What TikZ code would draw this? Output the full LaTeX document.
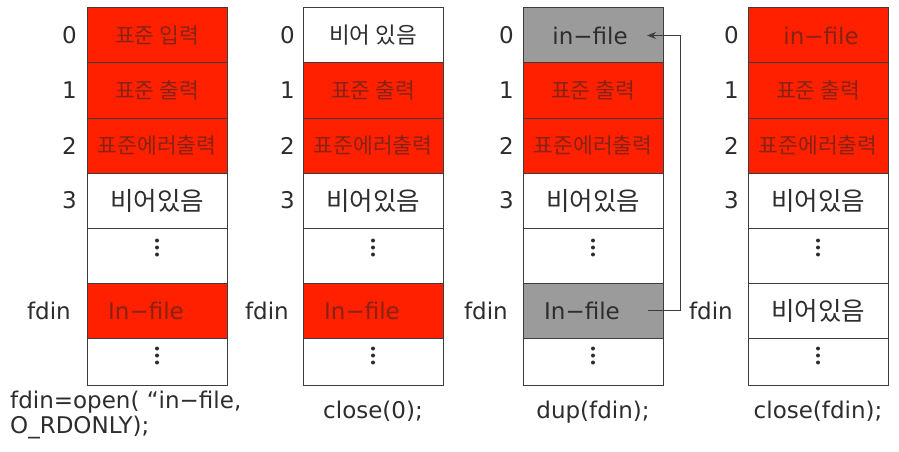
\documentclass[tikz,border=0pt]{standalone}
\usepackage{fontspec}
\setmainfont{DejaVu Sans}
\newfontfamily\kr{Noto Sans CJK KR}
\usetikzlibrary{arrows.meta}
\definecolor{redf}{RGB}{255,32,0}
\definecolor{redt}{RGB}{135,35,20}
\definecolor{grayf}{RGB}{155,155,155}
\definecolor{linec}{RGB}{60,60,60}
\definecolor{txt}{RGB}{45,45,45}
\tikzset{
  cell/.style={draw=linec, line width=1pt, minimum width=140pt, minimum height=55pt,
    anchor=north west, inner sep=0pt, outer sep=0pt},
  redc/.style={cell, fill=redf, text=redt, font=\kr\fontsize{21.5}{21.5}\selectfont},
  whc/.style={cell, fill=white, text=txt, font=\kr\fontsize{25.5}{25.5}\selectfont},
  whs/.style={cell, fill=white, text=txt, font=\kr\fontsize{22.5}{22.5}\selectfont},
  gryc/.style={cell, fill=grayf, text=txt, font=\fontsize{23}{23}\selectfont},
  redl/.style={cell, fill=redf, text=redt, font=\fontsize{23}{23}\selectfont},
  dotc/.style={cell, fill=white},
  lastc/.style={minimum height=47pt},
  lbl/.style={anchor=east, inner sep=0pt, text=txt, font=\fontsize{23}{23}\selectfont},
  captxt/.style={inner sep=0pt, text=txt, font=\fontsize{23}{25}\selectfont},
  dotfill/.style={fill=txt},
  conn/.style={draw=linec, line width=1pt, -{Stealth[length=9pt,width=7pt]}}
}
\begin{document}
\begin{tikzpicture}[x=1pt,y=-1pt]
\useasboundingbox (0,0) rectangle (899,452);
% column 1
\node[redc] (c1r0) at (87,8) {표준 입력};
\node[redc] (c1r1) at (87,63) {표준 출력};
\node[redc] (c1r2) at (87,118) {표준에러출력};
\node[whc]  (c1r3) at (87,173) {비어있음};
\node[dotc] (c1r4) at (87,228) {};
\node[redl] (c1r5) at (87,283) {In−file\hspace*{22pt}};
\node[dotc,lastc] (c1r6) at (87,338) {};
% column 2
\node[whs]  (c2r0) at (303,8) {비어 있음};
\node[redc] (c2r1) at (303,63) {표준 출력};
\node[redc] (c2r2) at (303,118) {표준에러출력};
\node[whc]  (c2r3) at (303,173) {비어있음};
\node[dotc] (c2r4) at (303,228) {};
\node[redl] (c2r5) at (303,283) {In−file\hspace*{22pt}};
\node[dotc,lastc] (c2r6) at (303,338) {};
% column 3
\node[gryc] (c3r0) at (523,8) {in−file\hspace*{6pt}};
\node[redc] (c3r1) at (523,63) {표준 출력};
\node[redc] (c3r2) at (523,118) {표준에러출력};
\node[whc]  (c3r3) at (523,173) {비어있음};
\node[dotc] (c3r4) at (523,228) {};
\node[gryc] (c3r5) at (523,283) {In−file\hspace*{22pt}};
\node[dotc,lastc] (c3r6) at (523,338) {};
% column 4
\node[redl] (c4r0) at (748,8) {\hspace*{6pt}in−file};
\node[redc] (c4r1) at (748,63) {표준 출력};
\node[redc] (c4r2) at (748,118) {표준에러출력};
\node[whc]  (c4r3) at (748,173) {비어있음};
\node[dotc] (c4r4) at (748,228) {};
\node[whc]  (c4r5) at (748,283) {비어있음};
\node[dotc,lastc] (c4r6) at (748,338) {};
% dots
\foreach \c in {1,2,3,4}{
  \foreach \d in {-15,-8,-1}{
    \fill[dotfill] (c\c r4.center) ++(0,\d) circle (2pt);
  }
  \foreach \d in {-13,-6,1}{
    \fill[dotfill] (c\c r6.center) ++(0,\d) circle (2pt);
  }
}
% labels
\foreach \c/\g in {1/10,2/8,3/9,4/9}{
  \node[lbl] (l\c r0) at ([xshift=-\g pt]c\c r0.west) {0};
  \node[lbl] (l\c r1) at ([xshift=-\g pt]c\c r1.west) {1};
  \node[lbl] (l\c r2) at ([xshift=-\g pt]c\c r2.west) {2};
  \node[lbl] (l\c r3) at ([xshift=-\g pt]c\c r3.west) {3};
  \node[lbl] (l\c r5) at ([xshift=-\g pt-6pt]c\c r5.west) {fdin};
}
% captions
\node[captxt, anchor=north west, align=left] (cap1) at (10,390.5) {fdin=open( “in−file,\\O\_RDONLY);};
\node[captxt, anchor=base] (cap2) at ([yshift=-33pt]c2r6.south) {close(0);};
\node[captxt, anchor=base] (cap3) at ([yshift=-33pt]c3r6.south) {dup(fdin);};
\node[captxt, anchor=base] (cap4) at ([yshift=-33pt]c4r6.south) {close(fdin);};
% dup arrow
\coordinate (a0) at ([xshift=-15pt]c3r5.east);
\coordinate (a1) at ([xshift=-16pt]c3r0.east);
\draw[conn] (a0) -| ([xshift=17pt]c3r0.east) -- (a1);
\end{tikzpicture}
\end{document}
